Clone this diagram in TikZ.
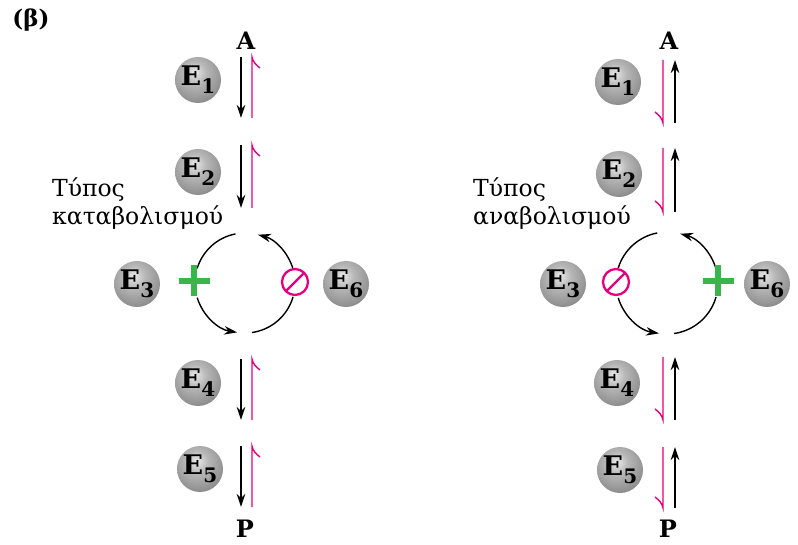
\documentclass[tikz,border=0pt]{standalone}
\usepackage{fontspec}
\setmainfont{DejaVu Serif}
\usetikzlibrary{arrows.meta}
\definecolor{mag}{RGB}{230,0,126}
\definecolor{grn}{RGB}{57,181,74}
\pgfdeclareradialshading{sphere}{\pgfpoint{-4bp}{9bp}}{%
  color(0bp)=(white!92!black); color(12bp)=(black!28); color(28bp)=(black!42);
  color(40bp)=(black!55); color(50bp)=(black!62); color(100bp)=(black!62)}
\newcommand\Elab[1]{E\kern0.3pt\raisebox{-0.3em}{\fontsize{20}{20}\selectfont #1}}
\begin{document}
\begin{tikzpicture}[x=1pt,y=-1pt,
  ball/.style={circle, minimum size=46pt, inner sep=0pt, shading=sphere,
    text=black, font=\bfseries\fontsize{27}{27}\selectfont},
  lbl/.style={font=\bfseries\fontsize{24}{24}\selectfont, inner sep=0pt},
  txt/.style={font=\fontsize{23.5}{23.5}\selectfont, anchor=base west, inner sep=0pt},
  blk/.style={line width=1.4pt, -{Stealth[length=13pt,width=8.5pt]}},
  mg/.style={draw=mag, line width=1.4pt},
  cyc/.style={line width=1.4pt},
  cyca/.style={line width=1.4pt, -{Stealth[length=13pt,width=8.5pt]}},
  plus/.style={draw=grn, line width=6.5pt},
  nosign/.style={draw=mag, line width=2.3pt},
]
\fill[white] (0,0) rectangle (798,545);
\useasboundingbox (0,0) rectangle (798,545);

\node[lbl, font=\bfseries\fontsize{23}{23}\selectfont] (beta) at (31,20) {(β)};

% ---------- LEFT ----------
\node[lbl] (AL) at (246,41) {A};
\node[lbl] (PL) at (245,529) {P};
\node[ball] (E1L) at (198,80) {\Elab{1}};
\node[ball] (E2L) at (198,172) {\Elab{2}};
\node[ball] (E3L) at (137,284) {\Elab{3}};
\node[ball] (E6L) at (346,284) {\Elab{6}};
\node[ball] (E4L) at (198,383) {\Elab{4}};
\node[ball] (E5L) at (200,469) {\Elab{5}};
\node[txt] (tL1) at (52,197) {Τύπος};
\node[txt] (tL2) at (52,225) {καταβολισμού};

\foreach \i/\ya/\yb in {1/57/118, 2/145/208, 3/359/420, 4/446/507}{
  \coordinate (Lbt\i) at (241,\ya);
  \coordinate (Lbb\i) at (241,\yb);
  \coordinate (Lmt\i) at (252,\ya);
  \coordinate (Lmb\i) at (252,\yb);
  \draw[blk] (Lbt\i) -- (Lbb\i);
  \draw[mg] (Lmb\i) -- (Lmt\i) .. controls +(1,5) and +(-4,-3) .. +(8,11);
}

\coordinate (cL) at (245,283);
\draw[cyc] ([shift={(259:50)}]cL) arc[start angle=259, end angle=197, radius=50];
\draw[cyca] ([shift={(163:50)}]cL) arc[start angle=163, end angle=99, radius=50];
\draw[cyc] ([shift={(82:50)}]cL) arc[start angle=82, end angle=16, radius=50];
\draw[cyca] ([shift={(-16:50)}]cL) arc[start angle=-16, end angle=-75, radius=50];

\coordinate (plusL) at (194,281);
\draw[plus] (plusL) +(-15.5,0) -- +(15.5,0) (plusL) +(0,-15.5) -- +(0,15.5);
\coordinate (noL) at (295,282);
\draw[nosign] (noL) circle[radius=13];
\draw[nosign] (noL) +(-9.2,9.2) -- +(9.2,-9.2);

% ---------- RIGHT ----------
\node[lbl] (AR) at (669,41) {A};
\node[lbl] (PR) at (668,529) {P};
\node[ball] (E1R) at (618,82) {\Elab{1}};
\node[ball] (E2R) at (619,174) {\Elab{2}};
\node[ball] (E3R) at (563,284) {\Elab{3}};
\node[ball] (E6R) at (767,284) {\Elab{6}};
\node[ball] (E4R) at (617,383) {\Elab{4}};
\node[ball] (E5R) at (620,470) {\Elab{5}};
\node[txt] (tR1) at (473,197) {Τύπος};
\node[txt] (tR2) at (473,225) {αναβολισμού};

\foreach \i/\ya/\yb in {1/60/123, 2/148/212, 3/357/420, 4/447/508}{
  \coordinate (Rbt\i) at (675,\ya);
  \coordinate (Rbb\i) at (675,\yb);
  \coordinate (Rmt\i) at (663,\ya);
  \coordinate (Rmb\i) at (663,\yb);
  \draw[blk] (Rbb\i) -- (Rbt\i);
  \draw[mg] (Rmt\i) -- (Rmb\i) .. controls +(-1,-5) and +(4,3) .. +(-8,-11);
}

\coordinate (cR) at (667,283);
\draw[cyc] ([shift={(259:51)}]cR) arc[start angle=259, end angle=197, radius=51];
\draw[cyca] ([shift={(163:51)}]cR) arc[start angle=163, end angle=99, radius=51];
\draw[cyc] ([shift={(82:51)}]cR) arc[start angle=82, end angle=16, radius=51];
\draw[cyca] ([shift={(-16:51)}]cR) arc[start angle=-16, end angle=-75, radius=51];

\coordinate (noR) at (616,282);
\draw[nosign] (noR) circle[radius=13];
\draw[nosign] (noR) +(-9.2,9.2) -- +(9.2,-9.2);
\coordinate (plusR) at (718,281);
\draw[plus] (plusR) +(-15.5,0) -- +(15.5,0) (plusR) +(0,-15.5) -- +(0,15.5);
\end{tikzpicture}
\end{document}
